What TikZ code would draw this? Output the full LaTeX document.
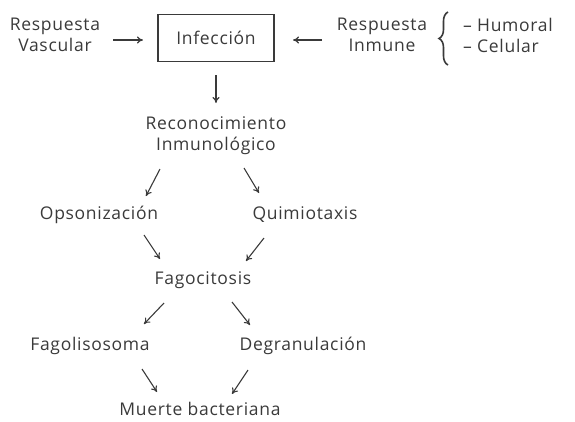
\documentclass[tikz,border=0pt]{standalone}
\usepackage{fontspec}
\setmainfont{Open Sans}[LetterSpace=4]
\usetikzlibrary{arrows.meta,decorations.pathreplacing}
\definecolor{ink}{HTML}{3A3A3A}
\begin{document}
\begin{tikzpicture}[x=1pt,y=-1pt,
  lbl/.style={text=ink,font=\fontsize{17.5}{21}\selectfont,inner sep=0pt,align=center},
  arr/.style={draw=ink,line width=1.1pt,-{To[length=6pt,width=7pt]}},
  boxed/.style={lbl,draw=ink,line width=1.1pt,minimum width=116pt,minimum height=47pt}]
\useasboundingbox (0,0) rectangle (575,421);
\node[lbl] (rv) at (55,35) {Respuesta\\Vascular};
\node[boxed] (inf) at (216,38) {Infección};
\node[lbl] (ri) at (382,35) {Respuesta\\Inmune};
\node[lbl,anchor=west] (hum) at (463,25) {– Humoral};
\node[lbl,anchor=west] (cel) at (463,46) {– Celular};
\coordinate (bt) at (448,12);
\coordinate (bb) at (448,65);
\draw[ink,line width=1.6pt,decorate,decoration={brace,amplitude=9pt}] (bb) -- (bt);
\node[lbl] (rec) at (216,136) {Reconocimiento\\Inmunológico};
\node[lbl] (ops) at (99,215) {Opsonización};
\node[lbl] (qui) at (305,215) {Quimiotaxis};
\node[lbl] (fag) at (203,280) {Fagocitosis};
\node[lbl] (fgl) at (90,346) {Fagolisosoma};
\node[lbl] (deg) at (303,346) {Degranulación};
\node[lbl] (mue) at (200,409) {Muerte bacteriana};
\coordinate (a1s) at (113,40); \coordinate (a1e) at (143,40);
\coordinate (a2s) at (322,40); \coordinate (a2e) at (293,40);
\draw[arr] (a1s) -- (a1e);
\draw[arr] (a2s) -- (a2e);
\draw[arr] (inf.south |- 0,75) -- (216,103);
\draw[arr] (160,169) -- (146,196);
\draw[arr] (244,168) -- (259,193);
\draw[arr] (144,235) -- (160,259);
\draw[arr] (264,238) -- (246,261);
\draw[arr] (164,303) -- (144,324);
\draw[arr] (232,302) -- (250,325);
\draw[arr] (142,369) -- (157,392);
\draw[arr] (248,370) -- (232,394);
\end{tikzpicture}
\end{document}
